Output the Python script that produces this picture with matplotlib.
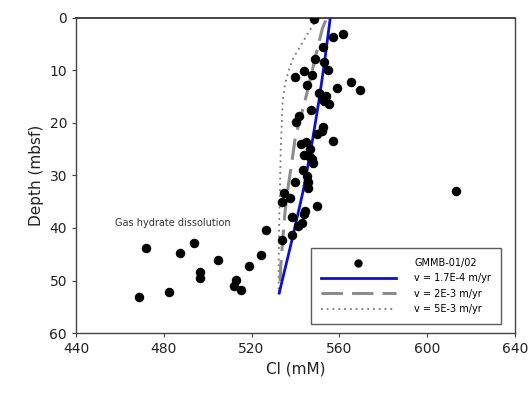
import matplotlib
matplotlib.use("Agg")
import matplotlib.pyplot as plt

# Pore water chloride profile, GMMB-01/02
cl_obs = [548.3, 561.5, 557.3, 552.8, 549.1, 553.1, 554.7, 543.9, 547.7, 539.7,
          545.4, 565.2, 559.0, 569.4, 550.7, 553.9, 552.5, 555.4, 553.1, 547.1,
          541.7, 540.2, 552.5, 552.1, 549.8, 557.0, 542.6, 544.6, 546.6, 543.9,
          546.6, 547.4, 547.9, 543.6, 545.3, 545.9, 539.7, 545.7, 534.6, 537.5,
          533.7, 549.8, 544.3, 543.7, 538.6, 543.1, 541.4, 538.4, 533.7, 613.3,
          526.7, 471.7, 493.8, 487.6, 504.7, 524.4, 519.0, 496.5, 496.5, 512.9,
          511.8, 515.0, 482.2, 468.9]
depth_obs = [0.2, 3.0, 3.6, 5.5, 7.9, 8.4, 9.9, 10.2, 10.8, 11.3,
             12.8, 12.2, 13.3, 13.8, 14.3, 14.9, 15.5, 16.4, 15.8, 17.5,
             18.6, 19.8, 20.7, 21.5, 22.2, 23.4, 24.0, 23.7, 24.9, 26.1,
             26.4, 26.9, 27.6, 29.0, 30.1, 31.2, 31.3, 32.3, 33.4, 34.3,
             35.0, 35.8, 36.8, 37.3, 38.0, 39.0, 39.7, 41.4, 42.3, 33.0,
             40.4, 43.9, 42.8, 44.8, 46.1, 45.2, 47.2, 48.4, 49.5, 49.9,
             51.0, 51.8, 52.1, 53.1]

# model curves for three advection rates
depth_v1 = [0.3, 8.0, 15.6, 24.0, 32.8, 42.0, 52.4]
cl_v1 = [555.8, 553.4, 550.8, 547.5, 543.6, 538.6, 532.6]

depth_v2 = [0.5, 2.0, 8.0, 13.1, 17.5, 22.6, 27.7, 32.1, 37.2, 42.3, 47.4, 52.4]
cl_v2 = [553.8, 552.3, 548.8, 546.0, 543.3, 540.0, 538.3, 536.7, 535.2, 534.2, 533.3, 532.8]

depth_v3 = [0.0, 1.3, 2.9, 5.5, 7.7, 9.9, 12.8, 15.9, 25.1, 33.4, 39.0, 45.0, 52.4]
cl_v3 = [549.5, 548.1, 545.8, 542.1, 539.0, 537.0, 535.2, 534.2, 533.3, 532.9, 532.6, 532.4, 532.3]

labels = ["GMMB-01/02", "v = 1.7E-4 m/yr", "v = 2E-3 m/yr", "v = 5E-3 m/yr"]

BLUE = "#1010cc"
DASH = (0, (7, 3))
DOT = (0, (1, 2.2))

fig = plt.figure(figsize=(5.28, 3.96), dpi=100)
ax = fig.add_axes([0.144, 0.159, 0.831, 0.796])

ax.plot(cl_v3, depth_v3, color="#777777", lw=1.3, ls=DOT, zorder=2)
ax.plot(cl_v2, depth_v2, color="#8c8c8c", lw=2.2, ls=DASH, zorder=2)
ax.plot(cl_v1, depth_v1, color=BLUE, lw=2.0, zorder=3)
ax.scatter(cl_obs, depth_obs, s=34, color="black", zorder=4)

# legend proxies
h_pts, = ax.plot([], [], "o", color="black", ms=5)
h_v1, = ax.plot([], [], color=BLUE, lw=2.0)
h_v2, = ax.plot([], [], color="#8c8c8c", lw=2.2, ls=DASH)
h_v3, = ax.plot([], [], color="#777777", lw=1.3, ls=DOT)
leg = ax.legend([h_pts, h_v1, h_v2, h_v3], labels,
                loc="lower right", bbox_to_anchor=(0.968, 0.029),
                fontsize=7, frameon=True, fancybox=False,
                handlelength=7.7, handletextpad=1.9, borderpad=1.0,
                labelspacing=0.55, borderaxespad=0)
leg.get_frame().set_edgecolor("#333333")
leg.get_frame().set_linewidth(1.0)

ax.text(484.2, 39.0, "Gas hydrate dissolution", fontsize=7, color="#333333",
        ha="center", va="center")

ax.set_xlim(440, 640)
ax.set_ylim(60, 0)
ax.set_xticks([440, 480, 520, 560, 600, 640])
ax.set_yticks([0, 10, 20, 30, 40, 50, 60])
ax.tick_params(labelsize=10, direction="out", length=3, color="#444444",
               labelcolor="#222222")
ax.set_xlabel("Cl (mM)", fontsize=11, color="#222222")
ax.set_ylabel("Depth (mbsf)", fontsize=11, color="#222222")
for s in ax.spines.values():
    s.set_color("#444444")
    s.set_linewidth(1.0)
ax.spines["top"].set_linewidth(1.4)

fig.savefig("out.png", dpi=100)
